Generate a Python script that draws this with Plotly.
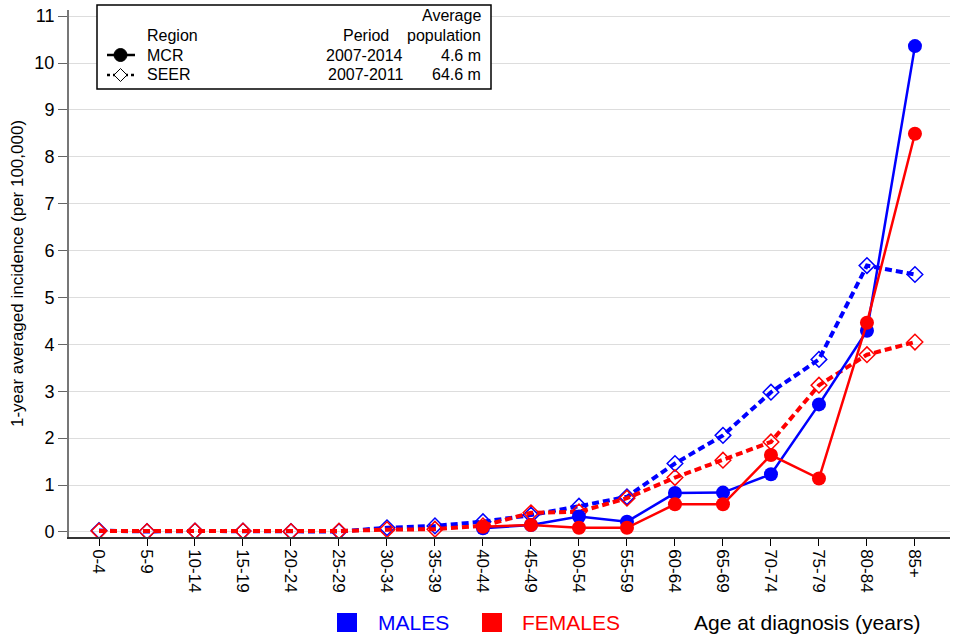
import plotly.graph_objects as go

ages = ["0-4", "5-9", "10-14", "15-19", "20-24", "25-29", "30-34", "35-39", "40-44",
        "45-49", "50-54", "55-59", "60-64", "65-69", "70-74", "75-79", "80-84", "85+"]

mcr_ages = ages[8:]
mcr_males = [0.08, 0.15, 0.33, 0.22, 0.83, 0.84, 1.23, 2.72, 4.29, 10.36]
mcr_females = [0.11, 0.15, 0.09, 0.09, 0.59, 0.59, 1.64, 1.14, 4.46, 8.49]

seer_males = [0.03, 0.01, 0.02, 0.02, 0.01, 0.01, 0.09, 0.13, 0.22, 0.36, 0.55, 0.75,
              1.46, 2.06, 2.98, 3.68, 5.68, 5.49]
seer_females = [0.02, 0.01, 0.02, 0.02, 0.01, 0.02, 0.05, 0.06, 0.13, 0.41, 0.43, 0.72,
                1.16, 1.53, 1.92, 3.13, 3.78, 4.05]

y_ticks = list(range(0, 12))

BLUE = "#0000FF"
RED = "#FF0000"
FONT = "Liberation Sans, Arial, sans-serif"

W, H = 956, 641
ML, MR, MT, MB = 69, 6, 10, 104
PW = W - ML - MR
PH = H - MT - MB


def px(x):
    return (x - ML) / PW


def py(y):
    return (H - MB - y) / PH


fig = go.Figure()

fig.add_trace(go.Scatter(x=ages, y=seer_males, mode="lines+markers",
                         line=dict(color=BLUE, width=4, dash="7px,4px"),
                         marker=dict(symbol="diamond-open", size=12, color=BLUE,
                                     line=dict(width=1.5, color=BLUE)),
                         showlegend=False))
fig.add_trace(go.Scatter(x=ages, y=seer_females, mode="lines+markers",
                         line=dict(color=RED, width=4, dash="7px,4px"),
                         marker=dict(symbol="diamond-open", size=12, color=RED,
                                     line=dict(width=1.5, color=RED)),
                         showlegend=False))
fig.add_trace(go.Scatter(x=mcr_ages, y=mcr_males, mode="lines+markers",
                         line=dict(color=BLUE, width=2.5),
                         marker=dict(symbol="circle", size=14, color=BLUE),
                         showlegend=False))
fig.add_trace(go.Scatter(x=mcr_ages, y=mcr_females, mode="lines+markers",
                         line=dict(color=RED, width=2.5),
                         marker=dict(symbol="circle", size=14, color=RED),
                         showlegend=False))

shapes = []
annotations = []

# Top-left legend box
shapes.append(dict(type="rect", xref="paper", yref="paper",
                   x0=px(97), x1=px(491), y0=py(89), y1=py(5),
                   line=dict(color="black", width=1.5), fillcolor="white", layer="above"))
# MCR glyph
shapes.append(dict(type="line", xref="paper", yref="paper",
                   x0=px(107), x1=px(135), y0=py(55), y1=py(55),
                   line=dict(color="black", width=2.5), layer="above"))
shapes.append(dict(type="circle", xref="paper", yref="paper",
                   x0=px(114), x1=px(127), y0=py(61.5), y1=py(48.5),
                   line=dict(color="black", width=1), fillcolor="black", layer="above"))
# SEER glyph
shapes.append(dict(type="line", xref="paper", yref="paper",
                   x0=px(107), x1=px(135), y0=py(75), y1=py(75),
                   line=dict(color="black", width=2.5, dash="dot"), layer="above"))
shapes.append(dict(type="path", xref="paper", yref="paper",
                   path=f"M {px(114)} {py(75)} L {px(120.5)} {py(68.5)} L {px(127)} {py(75)} L {px(120.5)} {py(81.5)} Z",
                   line=dict(color="black", width=1), fillcolor="white", layer="above"))


def ann(text, x, y, xanchor="left", color="black", size=16):
    annotations.append(dict(text=text, xref="paper", yref="paper", x=px(x), y=py(y),
                            xanchor=xanchor, yanchor="middle", showarrow=False,
                            font=dict(family=FONT, size=size, color=color)))


ann("Average", 483, 16, "right")
ann("Region", 145, 36)
ann("Period", 391, 36, "right")
ann("population", 483, 36, "right")
ann("MCR", 145, 55)
ann("2007-2014", 405, 55, "right")
ann("4.6 m", 483, 55, "right")
ann("SEER", 145, 75)
ann("2007-2011", 405, 75, "right")
ann("64.6 m", 483, 75, "right")

# Bottom legend
shapes.append(dict(type="rect", xref="paper", yref="paper",
                   x0=px(337), x1=px(357), y0=py(632), y1=py(613),
                   line=dict(width=0), fillcolor=BLUE))
shapes.append(dict(type="rect", xref="paper", yref="paper",
                   x0=px(482), x1=px(502), y0=py(632), y1=py(613),
                   line=dict(width=0), fillcolor=RED))
ann("MALES", 376, 622, "left", BLUE, 21)
ann("FEMALES", 520, 622, "left", RED, 21)
ann("Age at diagnosis (years)", 692, 622, "left", "black", 21)

fig.update_layout(
    width=W, height=H,
    margin=dict(l=ML, r=MR, t=MT, b=MB, pad=0),
    paper_bgcolor="white", plot_bgcolor="white",
    font=dict(family=FONT, size=17, color="black"),
    shapes=shapes, annotations=annotations,
    xaxis=dict(type="category", categoryorder="array", categoryarray=ages,
               range=[-0.625, 17.73], tickangle=90, ticks="outside", ticklen=7,
               tickcolor="black", tickwidth=1.2, showline=True, linecolor="#333333",
               linewidth=1.5, showgrid=False, zeroline=False, automargin=False,
               tickfont=dict(family=FONT, size=17, color="black")),
    yaxis=dict(range=[-0.107, 11.13], tickvals=y_ticks, ticks="outside", ticklen=9,
               tickcolor="#666666", tickwidth=1.2, showline=True, linecolor="#777777",
               linewidth=2, showgrid=True, gridcolor="#dddddd", gridwidth=1,
               zeroline=False, ticklabeloverflow="allow", automargin=False,
               tickfont=dict(family=FONT, size=18, color="black"),
               title=dict(text="1-year averaged incidence (per 100,000)",
                          font=dict(family=FONT, size=17, color="black"), standoff=6)),
)

fig.write_html("out.html", config={"displayModeBar": False},
               post_script="document.body.style.margin='0';document.body.style.overflow='hidden';")
